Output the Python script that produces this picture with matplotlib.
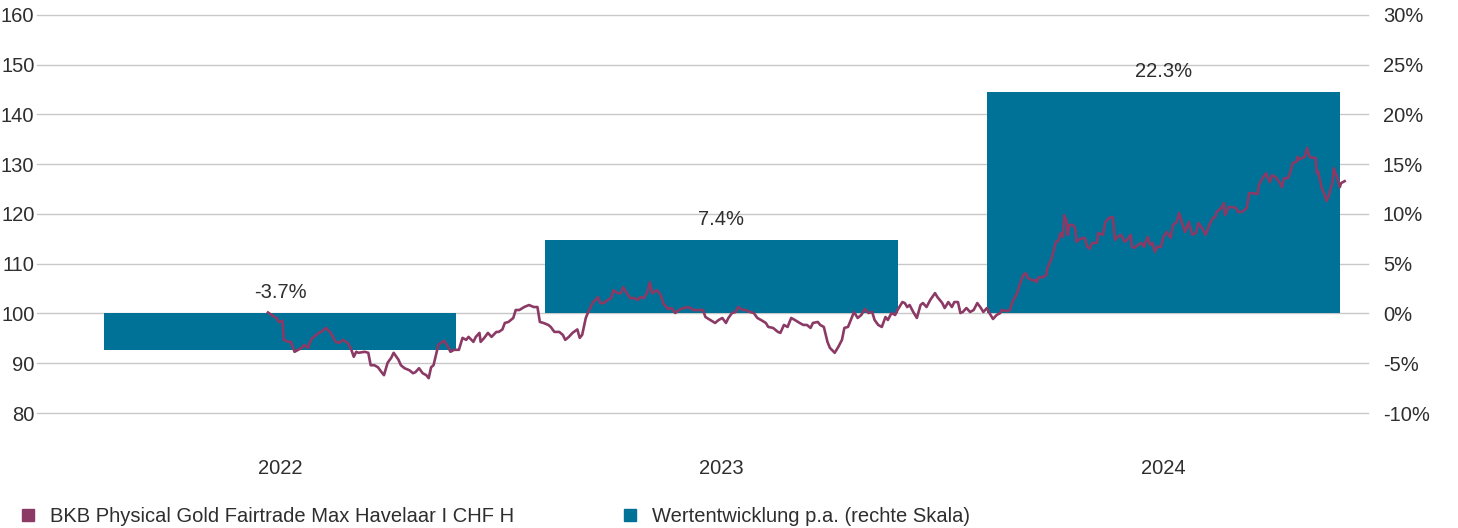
import datetime as dt
import matplotlib
matplotlib.use("Agg")
import matplotlib.pyplot as plt
import matplotlib.dates as mdates
from matplotlib.lines import Line2D

plt.rcParams["font.family"] = ["Liberation Sans", "DejaVu Sans"]

# yearly performance bars (right scale, %)
years = ["2022", "2023", "2024"]
year_mid = [dt.date(2022, 7, 2), dt.date(2023, 7, 2), dt.date(2024, 7, 2)]
perf = [-3.7, 7.4, 22.3]

# indexed fund price (left scale), days after start date
line_start = dt.date(2022, 6, 22)
line_days = [
    0, 3, 7, 9, 12, 13, 17, 19, 22, 25, 28, 30, 33, 36, 38, 42, 44, 48, 52, 56,
    59, 62, 66, 69, 71, 73, 75, 80, 83, 85, 88, 91, 94, 96, 99, 102, 104, 108,
    110, 113, 117, 120, 122, 125, 128, 131, 133, 135, 137, 141, 143, 146, 149, 151,
    154, 158, 161, 164, 166, 170, 172, 175, 176, 179, 182, 185, 189, 191, 194, 196,
    199, 203, 205, 208, 212, 216, 220, 223, 225,
    228, 232, 234, 237, 241, 244, 246, 249, 252, 256, 258, 260, 263, 265, 269, 271,
    273, 275, 278, 281, 284, 286, 289, 292, 294, 298, 300, 303, 306, 308, 311, 314,
    316, 318, 322, 325, 327, 331, 334, 337, 340,
    344, 348, 352, 356, 360, 362, 366, 370, 373, 376, 379, 381, 384, 387, 389, 393,
    395, 399, 402, 405, 408, 412, 414, 418, 422, 424, 427, 430, 433, 436, 440, 443,
    446, 449, 451, 455,
    457, 460, 463, 465, 469, 472, 475, 477, 480, 484, 485, 488, 491, 494, 497, 500,
    502, 505, 508, 511, 513, 516, 519, 521, 525, 527, 529, 531, 534, 537, 540, 542,
    545, 548, 552, 554, 558, 560, 563, 566, 568, 571, 573,
    575, 578, 581, 584, 587, 590, 592, 595, 597, 600, 603, 606, 607, 611, 614, 616,
    620, 622, 625, 627, 629, 632, 635, 636, 638, 641, 644, 645, 647, 649, 652, 654,
    656, 658, 659, 661, 662, 663, 666, 668, 669, 672, 676, 678, 680, 682, 686, 687,
    691,
    693, 696, 699, 701, 703, 706, 709, 711, 714, 715, 717, 720, 723, 725, 728, 730,
    732, 734, 736, 739, 741, 744, 747, 749, 752, 754, 757, 759, 762, 765, 768, 770,
    773, 776, 779, 782, 784, 785, 789, 791, 792, 795, 798, 801, 803,
    806, 810, 812, 815, 819, 820, 823, 826, 829, 831, 834, 837, 839, 841, 844, 846,
    848, 851, 852, 853, 856, 858, 860, 862, 864, 867, 868, 869, 872, 874, 876, 878,
    881, 882, 885, 887, 888, 891,
]
line_vals = [
    100.2, 99.7, 99.1, 98.3, 98.5, 94.7, 94.3, 94.3, 92.3, 92.7, 93.1, 93.7, 93.1, 94.9, 95.3, 96.1,
    96.3, 97.1, 96.1, 94.3, 94.1, 94.7, 94.1, 92.7, 91.3, 92.3, 92.1, 92.3, 92.1, 89.6,
    89.6, 89.2, 88.2, 87.6, 90.1, 91.1, 92.1, 90.7,
    89.6, 89.0, 88.6, 88.0, 88.2, 89.0, 88.0, 87.6, 87.0, 89.2, 89.6, 93.7, 94.1, 94.5,
    93.3, 92.3, 92.7, 92.7, 95.1, 94.7, 95.3, 94.3, 95.3, 96.1, 94.3, 95.1, 96.1, 95.3,
    96.3, 96.3, 96.8, 98.1, 98.3, 99.1, 100.7, 100.7, 101.3, 101.7, 101.3, 101.3, 98.3,
    98.1, 97.7, 97.3, 96.3, 96.3, 95.7, 94.7, 95.3, 96.1, 96.8, 95.1, 95.7, 99.1,
    100.3, 102.3, 102.7, 103.3, 102.1, 102.1, 102.7, 103.1, 104.7, 104.1, 104.1, 105.3,
    103.7, 103.1, 103.1, 102.7, 103.3, 103.1, 104.3, 106.3, 104.1, 104.7, 103.7, 102.1,
    100.9, 101.1, 100.1, 100.7,
    101.1, 101.3, 100.7, 100.7, 100.7, 99.3, 98.7, 98.1, 98.7, 99.1, 98.1, 99.1, 100.1,
    100.3, 101.3, 100.7, 100.7, 100.3, 100.1, 99.1, 98.7, 98.1, 97.3, 97.1, 96.3, 96.1,
    97.7, 97.3, 99.1, 98.7, 98.1, 97.7, 97.7, 97.1, 98.1, 98.3,
    97.7, 97.3, 94.3, 93.1, 92.1, 93.3, 94.7, 97.1, 97.3, 99.7, 100.3, 99.1, 99.7,
    100.9, 100.1, 100.3, 98.7, 97.7, 97.3, 99.3, 98.7, 100.1, 99.7, 100.7, 102.3, 102.1,
    101.3, 101.7, 100.3, 99.1, 101.7, 102.1, 101.3, 102.7, 104.1, 103.3, 102.1, 101.1,
    102.3, 101.3, 102.3, 102.3, 100.1,
    100.3, 101.1, 100.3, 100.7, 102.1, 101.1, 100.3, 101.1, 100.1, 98.9, 99.7, 100.1,
    100.7, 100.5, 100.7, 102.3, 104.1, 105.7, 107.7, 108.1, 107.1, 106.7, 106.7, 106.3,
    107.3, 107.3, 107.7, 109.1, 110.2, 111.4, 114.4, 114.6, 116.2, 115.4, 119.8, 118.4,
    115.8, 117.8, 117.8, 117.2, 114.4, 115.0, 115.2, 113.4, 113.0, 114.2, 114.2, 116.2,
    115.8,
    118.4, 119.2, 119.4, 114.8, 115.4, 115.8, 114.4, 114.8, 115.8, 113.4, 113.2, 113.8,
    114.2, 113.4, 115.4, 113.8, 114.2, 112.4, 113.4, 113.4, 115.4, 116.4, 115.2, 117.8,
    118.4, 120.2, 117.8, 116.4, 118.4, 115.8, 116.2, 118.2, 117.2, 115.8, 117.8, 119.2,
    119.4, 120.4, 121.2, 122.2, 119.8, 121.4, 121.4, 121.2, 120.4,
    120.4, 121.2, 124.2, 124.2, 124.0, 125.8, 127.2, 128.2, 126.4, 127.8, 127.4, 126.4,
    125.4, 127.2, 127.2, 128.4, 130.2, 130.5, 131.5, 130.9, 131.3, 131.5, 133.3, 131.5,
    131.3, 131.3, 128.2, 128.6, 125.2, 124.2, 122.6, 123.8, 126.4, 129.2, 127.2, 125.4,
    126.2, 126.6,
]

bar_color = "#007298"
line_color = "#8b3a66"
grid_color = "#c8c8c8"
text_color = "#2e2e2e"
fs = 14.5

fig = plt.figure(figsize=(14.58, 5.28), dpi=100)
ax = fig.add_axes([0.0255, 0.2178, 0.9125, 0.7538])
ax2 = ax.twinx()

# bars on the right scale, drawn underneath
x_mid = mdates.date2num(year_mid)
ax2.bar(x_mid, perf, width=292, color=bar_color, zorder=2)
ax2.set_ylim(-10, 30)
ax2.set_yticks(range(-10, 31, 5))
ax2.set_yticklabels([f"{t}%" for t in range(-10, 31, 5)])
ax2.grid(axis="y", color=grid_color, linewidth=1.0, zorder=0)
ax2.set_axisbelow(True)
for gl in ax2.get_ygridlines():
    gl.set_clip_on(False)
for xm, p in zip(x_mid, perf):
    ax2.annotate(f"{p}%", (xm, max(p, 0)), xytext=(0, 8), textcoords="offset points",
                 ha="center", va="bottom", fontsize=fs, color=text_color)

# line on the left scale, on top
line_x = [mdates.date2num(line_start + dt.timedelta(days=d)) for d in line_days]
ax.plot(line_x, line_vals, color=line_color, linewidth=1.9, zorder=5)
ax.set_ylim(80, 160)
ax.set_yticks(range(80, 161, 10))
ax.set_zorder(ax2.get_zorder() + 1)
ax.patch.set_visible(False)

ax.set_xlim(mdates.date2num(dt.date(2021, 12, 13)), mdates.date2num(dt.date(2024, 12, 18)))
ax.set_xticks(x_mid)
ax.set_xticklabels(years)

for a in (ax, ax2):
    for s in a.spines.values():
        s.set_visible(False)
ax.tick_params(axis="x", length=0, pad=33, labelsize=fs, labelcolor=text_color)
ax.tick_params(axis="y", length=0, pad=2, labelsize=fs, labelcolor=text_color)
ax2.tick_params(axis="y", length=0, pad=11, labelsize=fs, labelcolor=text_color)

h1 = Line2D([], [], marker="s", linestyle="none", markersize=9, color=line_color)
h2 = Line2D([], [], marker="s", linestyle="none", markersize=9, color=bar_color)
leg_kw = dict(loc="center left", frameon=False, fontsize=fs, handlelength=0.8,
              handletextpad=0.7, borderpad=0, borderaxespad=0, labelcolor=text_color)
fig.legend([h1], ["BKB Physical Gold Fairtrade Max Havelaar I CHF H"],
           bbox_to_anchor=(0.0137, 0.021), **leg_kw)
fig.legend([h2], ["Wertentwicklung p.a. (rechte Skala)"],
           bbox_to_anchor=(0.4266, 0.021), **leg_kw)

fig.savefig("out.png", dpi=100)
